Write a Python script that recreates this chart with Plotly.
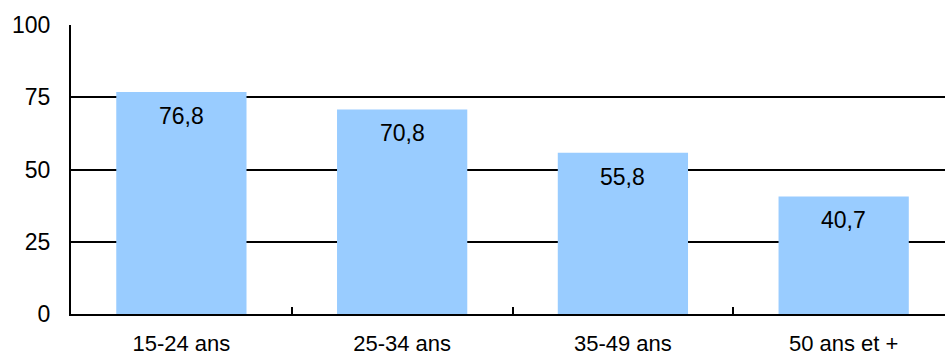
import plotly.graph_objects as go

categories = ["15-24 ans", "25-34 ans", "35-49 ans", "50 ans et +"]
values = [76.8, 70.8, 55.8, 40.7]
y_ticks = [0, 25, 50, 75, 100]

FONT = "Liberation Sans, Arial, sans-serif"
labels = [f"{v:.1f}".replace(".", ",") for v in values]

fig = go.Figure()
fig.add_trace(go.Bar(
    x=categories, y=values,
    marker=dict(color="#99CCFF", line=dict(width=0)),
    width=0.59,
    hoverinfo="skip",
))

for c, v, t in zip(categories, values, labels):
    fig.add_annotation(x=c, y=v, text=t, showarrow=False,
                       yanchor="middle", yshift=-24,
                       font=dict(family=FONT, size=23, color="#000000"))

fig.update_layout(
    width=945, height=358,
    margin=dict(l=70.5, r=0, t=25, b=44.3, pad=0),
    paper_bgcolor="white", plot_bgcolor="white",
    showlegend=False,
    font=dict(family=FONT, size=23, color="#000000"),
    bargap=0.41,
)
fig.update_xaxes(
    type="category",
    range=[-0.5, 3.459],
    tickson="boundaries",
    ticks="inside", ticklen=7, tickwidth=2, tickcolor="black",
    showline=True, linecolor="black", linewidth=2,
    showgrid=False, zeroline=False,
    ticklabelstandoff=9,
    automargin=False,
    tickfont=dict(family=FONT, size=22, color="black"),
)
fig.update_yaxes(
    range=[0, 100],
    tickvals=y_ticks,
    ticks="", showline=True, linecolor="black", linewidth=2,
    showgrid=True, gridcolor="black", gridwidth=2,
    zeroline=False,
    ticklabelstandoff=14,
    automargin=False,
    tickfont=dict(family=FONT, size=23, color="black"),
)

fig.write_html("out.html")
